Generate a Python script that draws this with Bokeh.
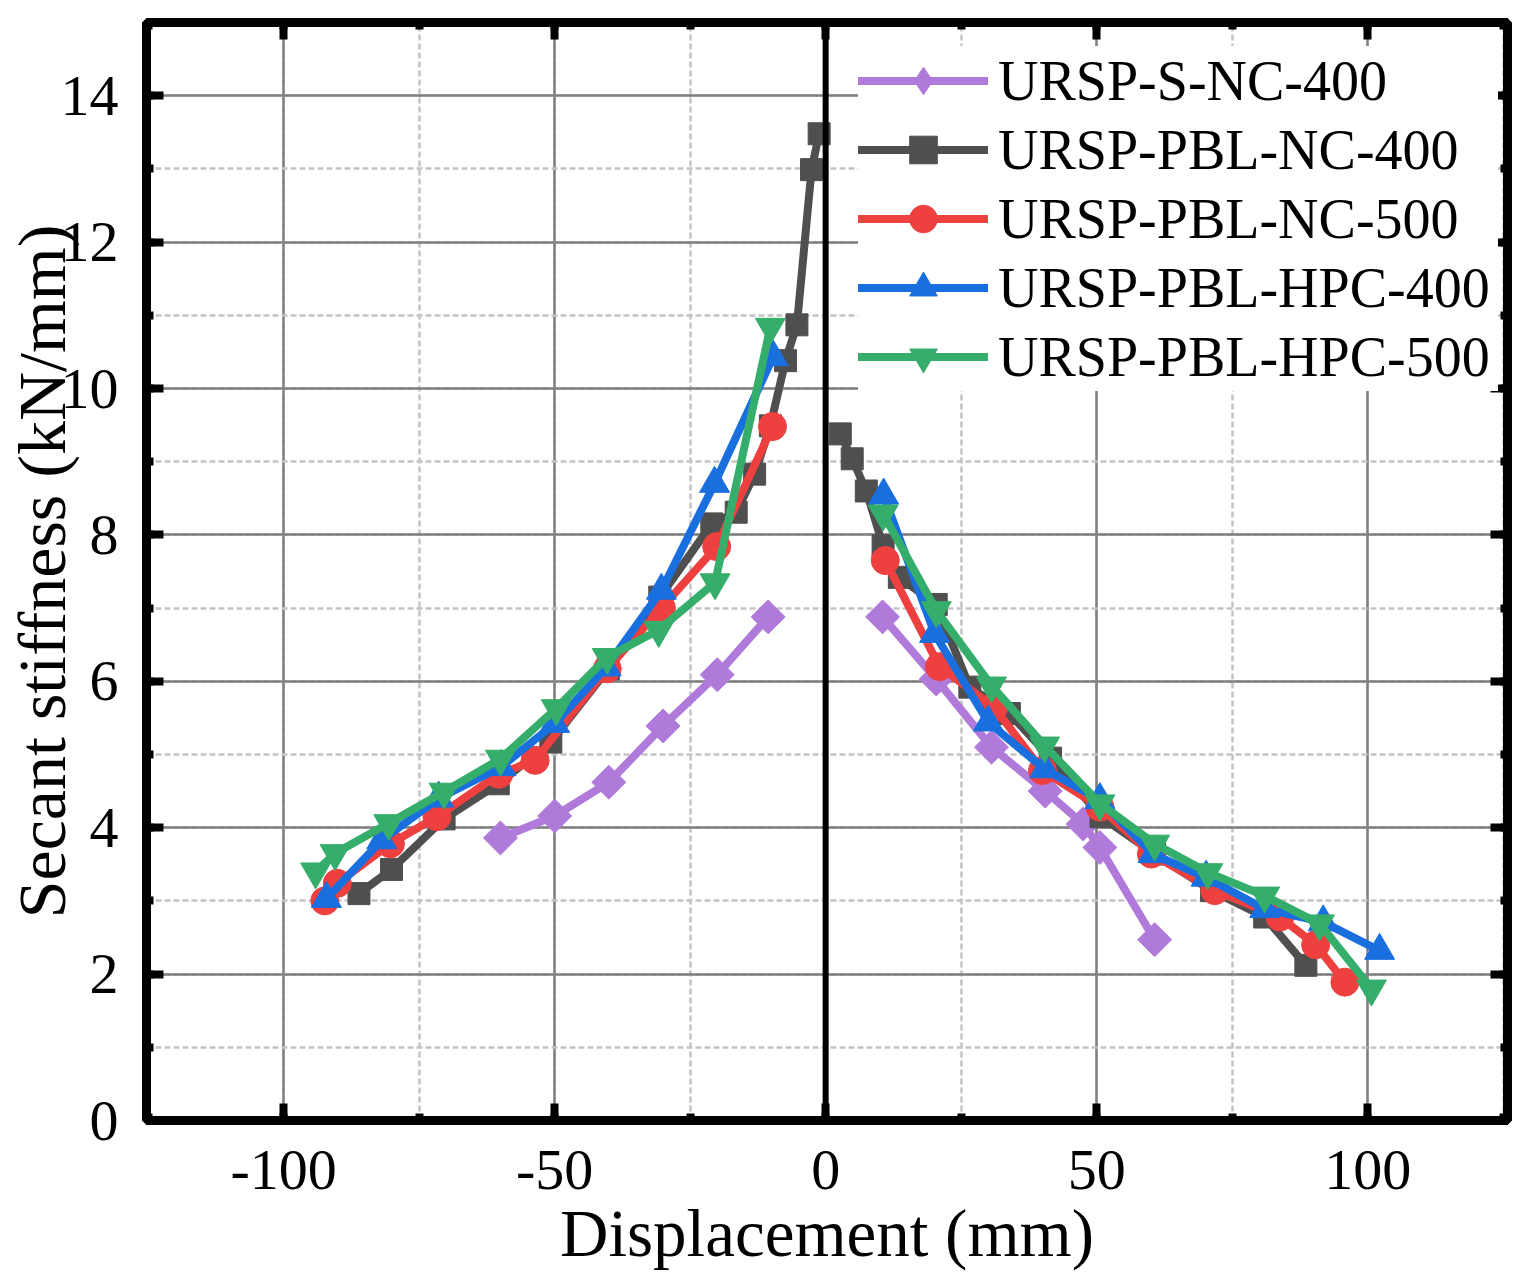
import numpy as np
from bokeh.plotting import figure
from bokeh.models import (LinearAxis, SingleIntervalTicker, Span, Legend,
                          LegendItem, Range1d, CustomJSTickFormatter)
from bokeh.embed import file_html
from bokeh.resources import INLINE

# ---------------- data ----------------
series_names = ["URSP-S-NC-400", "URSP-PBL-NC-400", "URSP-PBL-NC-500",
                "URSP-PBL-HPC-400", "URSP-PBL-HPC-500"]

s_nc_400_neg_x = [-60, -50, -40, -30, -20, -10.6]
s_nc_400_neg_y = [3.86, 4.16, 4.62, 5.39, 6.09, 6.88]
s_nc_400_pos_x = [10.5, 20.4, 30.6, 40.5, 47.5, 50.6, 60.7]
s_nc_400_pos_y = [6.88, 6.03, 5.10, 4.50, 4.05, 3.73, 2.47]

pbl_nc_400_neg_x = [-86.1, -80.1, -70.4, -60.4, -50.7, -40.1, -30.6, -21.0,
                    -16.5, -13.1, -10.2, -7.4, -5.3, -2.6, -1.2]
pbl_nc_400_neg_y = [3.10, 3.43, 4.12, 4.60, 5.17, 6.17, 7.15, 8.15,
                    8.31, 8.83, 9.49, 10.38, 10.87, 12.99, 13.48]
pbl_nc_400_pos_x = [2.7, 4.9, 7.5, 10.6, 13.6, 20.4, 26.6, 33.9, 41.5, 50.8,
                    60.7, 71.2, 81.0, 88.6]
pbl_nc_400_pos_y = [9.38, 9.04, 8.60, 7.85, 7.42, 7.05, 5.92, 5.56, 4.95, 4.15,
                    3.64, 3.14, 2.78, 2.12]

pbl_nc_500_neg_x = [-92.4, -90.1, -80.3, -71.7, -60.3, -53.6, -40.3, -30.3,
                    -20.1, -9.8]
pbl_nc_500_neg_y = [3.00, 3.24, 3.78, 4.15, 4.73, 4.92, 6.17, 7.00, 7.84, 9.48]
pbl_nc_500_pos_x = [11.0, 21.0, 31.0, 40.0, 50.6, 60.1, 71.8, 83.8, 90.4, 95.8]
pbl_nc_500_pos_y = [7.65, 6.20, 5.65, 4.78, 4.28, 3.64, 3.14, 2.78, 2.40, 1.89]

pbl_hpc_400_neg_x = [-92.1, -81.9, -71.4, -59.9, -50.0, -40.5, -30.3, -20.5, -9.7]
pbl_hpc_400_neg_y = [3.03, 3.83, 4.40, 4.83, 5.42, 6.19, 7.24, 8.70, 10.43]
pbl_hpc_400_pos_x = [10.7, 20.1, 30.0, 40.4, 50.6, 60.4, 70.2, 81.0, 91.8, 102.2]
pbl_hpc_400_pos_y = [8.54, 6.65, 5.44, 4.80, 4.38, 3.64, 3.32, 2.89, 2.71, 2.32]

pbl_hpc_500_neg_x = [-94.1, -90.5, -80.6, -70.4, -60.0, -49.7, -40.3, -30.8,
                     -20.4, -10.2]
pbl_hpc_500_neg_y = [3.40, 3.65, 4.06, 4.49, 4.94, 5.63, 6.33, 6.70, 7.35, 10.84]
pbl_hpc_500_pos_x = [10.6, 20.4, 30.6, 40.4, 50.6, 60.7, 70.5, 81.0, 91.1, 100.7]
pbl_hpc_500_pos_y = [8.29, 6.97, 5.94, 5.12, 4.33, 3.78, 3.39, 3.07, 2.69, 1.80]

x_tick_overrides = {-100: "-100", -50: "-50"}

colors = ["#B07ADA", "#4F4F4F", "#EF4040", "#1A6FDF", "#35AE6B"]
markers = ["square", "square", "circle", "triangle", "inverted_triangle"]
legend_markers = ["diamond", "square", "circle", "triangle", "inverted_triangle"]
marker_sizes = [24, 22, 28, 30, 30]
marker_angles = [np.pi / 4, 0, 0, 0, 0]

FONT = "Liberation Serif"

all_data = [
    (s_nc_400_neg_x, s_nc_400_neg_y, s_nc_400_pos_x, s_nc_400_pos_y),
    (pbl_nc_400_neg_x, pbl_nc_400_neg_y, pbl_nc_400_pos_x, pbl_nc_400_pos_y),
    (pbl_nc_500_neg_x, pbl_nc_500_neg_y, pbl_nc_500_pos_x, pbl_nc_500_pos_y),
    (pbl_hpc_400_neg_x, pbl_hpc_400_neg_y, pbl_hpc_400_pos_x, pbl_hpc_400_pos_y),
    (pbl_hpc_500_neg_x, pbl_hpc_500_neg_y, pbl_hpc_500_pos_x, pbl_hpc_500_pos_y),
]

# ---------------- figure ----------------
FW, FH = 1361, 1098
p = figure(frame_width=FW, frame_height=FH,
           x_range=Range1d(-125.3, 125.8), y_range=Range1d(0, 15),
           output_backend="svg", toolbar_location=None,
           min_border_left=139, min_border_right=18,
           min_border_top=22, min_border_bottom=150)
p.background_fill_color = "white"
p.border_fill_color = "white"
p.outline_line_color = "black"
p.outline_line_width = 9

p.xaxis.ticker = SingleIntervalTicker(interval=50, num_minor_ticks=2)
p.yaxis.ticker = SingleIntervalTicker(interval=2, num_minor_ticks=2)

for g in (p.xgrid, p.ygrid):
    g.grid_line_color = "#808080"
    g.grid_line_width = 2.5
    g.minor_grid_line_color = "#C4C4C4"
    g.minor_grid_line_width = 2.5
    g.minor_grid_line_dash = "6 3"

def style_axis(ax, labels=True):
    ax.axis_line_width = 9
    ax.axis_line_color = "black"
    ax.major_tick_in = 17
    ax.major_tick_out = 0
    ax.minor_tick_in = 7
    ax.minor_tick_out = 0
    ax.major_tick_line_width = 8
    ax.minor_tick_line_width = 8
    ax.major_tick_line_color = "black"
    ax.minor_tick_line_color = "black"
    ax.major_label_text_font = FONT
    ax.axis_label_text_font = FONT
    ax.axis_label_text_font_style = "normal"
    ax.major_label_text_color = "black"
    ax.axis_label_text_color = "black"
    if not labels:
        # mirrored axis: ticks only, no labels
        ax.formatter = CustomJSTickFormatter(code="return ''")
        ax.major_label_text_font_size = "10px"
        ax.major_label_standoff = 0

style_axis(p.xaxis[0])
style_axis(p.yaxis[0])
p.xaxis.major_label_overrides = x_tick_overrides
p.xaxis.major_label_text_font_size = "58px"
p.yaxis.major_label_text_font_size = "58px"
p.xaxis.major_label_standoff = 30
p.yaxis.major_label_standoff = 28
p.xaxis.axis_label = "Displacement (mm)"
p.yaxis.axis_label = "Secant stiffness (kN/mm)"
p.xaxis.axis_label_text_font_size = "67px"
p.yaxis.axis_label_text_font_size = "68px"
p.xaxis.axis_label_standoff = 4
p.yaxis.axis_label_standoff = -22

top = LinearAxis(ticker=SingleIntervalTicker(interval=50, num_minor_ticks=2))
right = LinearAxis(ticker=SingleIntervalTicker(interval=2, num_minor_ticks=2))
style_axis(top, labels=False)
style_axis(right, labels=False)
p.add_layout(top, "above")
p.add_layout(right, "right")

zero = Span(location=0, dimension="height", line_color="black", line_width=6)
p.add_layout(zero)

items = []
for name, (nx, ny, px_, py_), c, m, lm, s, a in zip(series_names, all_data, colors,
                                                   markers, legend_markers,
                                                   marker_sizes, marker_angles):
    xs = list(nx) + [float("nan")] + list(px_)
    ys = list(ny) + [float("nan")] + list(py_)
    allx = list(nx) + list(px_)
    ally = list(ny) + list(py_)
    ln = p.line(xs, ys, line_color=c, line_width=8, line_join="round",
                line_cap="round")
    sc = p.scatter(allx, ally, marker=m, size=s, angle=a, fill_color=c,
                   line_color=c, line_width=1)
    if lm != m:
        # legend-only marker (legends do not rotate markers); hidden in plot
        leg = p.scatter(allx, ally, marker=lm, size=s, fill_color=c,
                        line_color=c, line_width=1, visible=False)
        items.append(LegendItem(label=name, renderers=[ln, leg]))
    else:
        items.append(LegendItem(label=name, renderers=[ln, sc]))

PAD = 25
ROW = 69
LEG_W = 130
LEG_LABEL_W = 500
legend = Legend(items=items, location=(712, 729), margin=0,
                padding=PAD, spacing=0, glyph_width=LEG_W, glyph_height=ROW,
                label_height=ROW, label_width=LEG_LABEL_W, label_standoff=10,
                label_text_font=FONT, label_text_font_size="56px",
                label_text_color="black", background_fill_color="white",
                background_fill_alpha=1.0, border_line_color=None,
                inactive_fill_alpha=0.0)
p.add_layout(legend)

open("out.html", "w").write(file_html(p, INLINE))
